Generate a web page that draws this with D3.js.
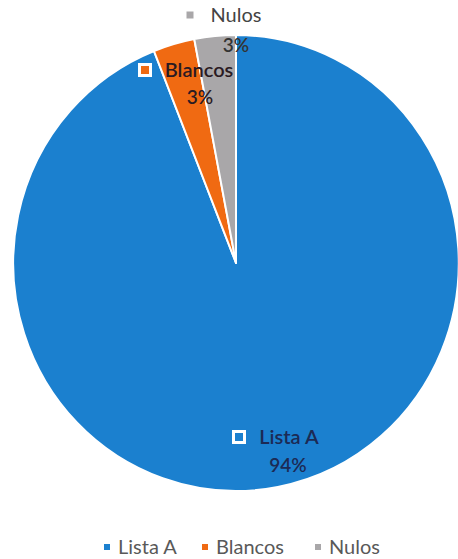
<!DOCTYPE html>
<html><head><meta charset="utf-8">
<script src="https://cdn.jsdelivr.net/npm/d3@7"></script>
<style>body{margin:0;background:#fff}svg{display:block}</style>
</head><body>
<script>
const categories = ["Lista A", "Blancos", "Nulos"];
const values = [94, 3, 3];
const percentLabels = ["94%", "3%", "3%"];
const colors = ["#1b80cf", "#f06a12", "#a9a7a9"];

const W = 458, H = 559;
const svg = d3.select("body").append("svg").attr("width", W).attr("height", H);
const font = "Lato, 'Noto Sans', sans-serif";

const cx = 236, cy = 263, R = 228;
const data = categories.map((c, i) => ({cat: c, value: values[i], pct: percentLabels[i], color: colors[i]}));
const pie = d3.pie().sort(null).value(d => d.value);
const arc = d3.arc().innerRadius(0).outerRadius(R);
const arcs = pie(data);

const g = svg.append("g").attr("transform", `translate(${cx},${cy}) scale(0.977,1)`);
g.selectAll("path").data(arcs).join("path")
  .attr("d", arc)
  .attr("fill", d => d.data.color)
  .attr("stroke", "#fff").attr("stroke-width", 2).attr("stroke-linejoin", "round");

// data labels (positions in pixel space)
const labelPos = [
  {mx: 239, my: 437, tx: 289, ty: 437, px: 288, py: 465, color: "#1c2a55", outside: false},
  {mx: 145, my: 70, tx: 199, ty: 70, px: 200, py: 97, color: "#2a1a22", outside: false},
  {mx: 190, my: 15, tx: 236, ty: 15, px: 236, py: 45, color: "#333", outside: true}
];
arcs.forEach((a, i) => {
  const p = labelPos[i];
  const lg = svg.append("g");
  if (p.outside) {
    lg.append("rect").attr("x", p.mx - 3.5).attr("y", p.my - 3.5).attr("width", 7).attr("height", 7)
      .attr("fill", a.data.color);
  } else {
    lg.append("rect").attr("x", p.mx - 5.5).attr("y", p.my - 5.5).attr("width", 11).attr("height", 11)
      .attr("fill", a.data.color).attr("stroke", "#fff").attr("stroke-width", 3);
  }
  lg.append("text").attr("x", p.tx).attr("y", p.ty).attr("dy", "0.35em")
    .attr("text-anchor", "middle").attr("font-family", font).attr("font-size", 20)
    .attr("font-weight", p.outside ? 400 : 600)
    .attr("fill", p.outside ? "#444" : p.color).text(a.data.cat);
  lg.append("text").attr("x", p.px).attr("y", p.py).attr("dy", "0.35em")
    .attr("text-anchor", "middle").attr("font-family", font).attr("font-size", 19)
    .attr("font-weight", 600).attr("fill", p.color).text(a.data.pct);
});

// legend
const legendX = [107, 205, 318];
const lgd = svg.append("g");
data.forEach((d, i) => {
  lgd.append("rect").attr("x", legendX[i] - 3).attr("y", 547 - 3).attr("width", 6).attr("height", 6).attr("fill", d.color);
  lgd.append("text").attr("x", legendX[i] + 11).attr("y", 547).attr("dy", "0.35em")
    .attr("font-family", font).attr("font-size", 20).attr("fill", "#595959").text(d.cat);
});
</script>
</body></html>
